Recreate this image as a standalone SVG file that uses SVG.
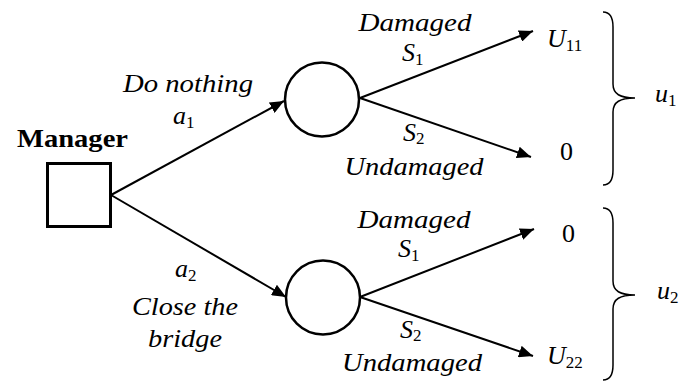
<svg xmlns="http://www.w3.org/2000/svg" width="683" height="383" viewBox="0 0 683 383">
<style>
.e{stroke:#000;stroke-width:2;fill:none}
.br{stroke:#000;stroke-width:1.5;fill:none}
.node{stroke:#000;fill:#fff}
</style>
<defs>
<marker id="ah" markerUnits="userSpaceOnUse" markerWidth="14" markerHeight="12" refX="14" refY="6" orient="auto">
<path d="M0,0 L14,6 L0,12 z" fill="#000"/>
</marker>
</defs>
<g id="connectors" marker-end="url(#ah)">
<line class="e" x1="111" y1="195" x2="284" y2="101"/>
<line class="e" x1="111" y1="195" x2="286" y2="297"/>
<line class="e" x1="360" y1="98" x2="533" y2="31"/>
<line class="e" x1="360" y1="98" x2="531" y2="157"/>
<line class="e" x1="360" y1="297" x2="534" y2="229"/>
<line class="e" x1="360" y1="297" x2="533" y2="356"/>
</g>
<g id="manager">
<rect class="node" x="47.5" y="163.5" width="63" height="63" stroke-width="3"/>
<text font-family="Times New Roman" font-weight="bold" font-size="26" x="17" y="147" textLength="111" lengthAdjust="spacingAndGlyphs">Manager</text>
</g>
<g id="chance1">
<circle class="node" cx="322" cy="99.5" r="37" stroke-width="2.5"/>
</g>
<g id="chance2">
<circle class="node" cx="323" cy="297.5" r="37" stroke-width="2.5"/>
</g>
<g id="labels-a1" font-family="Times New Roman" font-style="italic" font-size="26">
<text x="188" y="92" text-anchor="middle" textLength="130" lengthAdjust="spacingAndGlyphs">Do nothing</text>
<text x="173" y="124">a<tspan font-style="normal" font-size="17" dy="4">1</tspan></text>
</g>
<g id="labels-a2" font-family="Times New Roman" font-style="italic" font-size="26">
<text x="175" y="277">a<tspan font-style="normal" font-size="17" dy="4">2</tspan></text>
<text x="185" y="315" text-anchor="middle" textLength="106" lengthAdjust="spacingAndGlyphs">Close the</text>
<text x="185" y="347" text-anchor="middle" textLength="74" lengthAdjust="spacingAndGlyphs">bridge</text>
</g>
<g id="outcome-top" font-family="Times New Roman" font-style="italic" font-size="26">
<text x="415" y="31" text-anchor="middle" textLength="113" lengthAdjust="spacingAndGlyphs">Damaged</text>
<text x="402" y="61">S<tspan font-style="normal" font-size="17" dy="4">1</tspan></text>
<text x="403" y="141">S<tspan font-style="normal" font-size="17" dy="3">2</tspan></text>
<text x="414" y="175" text-anchor="middle" textLength="139" lengthAdjust="spacingAndGlyphs">Undamaged</text>
<text x="547" y="47">U<tspan font-style="normal" font-size="17" dy="4">11</tspan></text>
<text font-style="normal" x="560" y="160">0</text>
</g>
<g id="outcome-bottom" font-family="Times New Roman" font-style="italic" font-size="26">
<text x="414" y="228" text-anchor="middle" textLength="113" lengthAdjust="spacingAndGlyphs">Damaged</text>
<text x="398" y="257">S<tspan font-style="normal" font-size="17" dy="4">1</tspan></text>
<text x="400" y="338">S<tspan font-style="normal" font-size="17" dy="3">2</tspan></text>
<text x="412" y="371" text-anchor="middle" textLength="140" lengthAdjust="spacingAndGlyphs">Undamaged</text>
<text font-style="normal" x="562" y="242">0</text>
<text x="547" y="364">U<tspan font-style="normal" font-size="17" dy="4">22</tspan></text>
</g>
<g id="brace1">
<path class="br" d="M603,12 C610,12 613,17 613,27 L613,84 C613,94 620,98 635,98 C620,98 613,102 613,112 L613,170 C613,180 610,185 603,185"/>
<text font-family="Times New Roman" font-style="italic" font-size="26" x="655" y="102">u<tspan font-style="normal" font-size="17" dy="4">1</tspan></text>
</g>
<g id="brace2">
<path class="br" d="M603,208 C610,208 613,213 613,223 L613,281 C613,291 620,295 635,295 C620,295 613,299 613,309 L613,365 C613,375 610,380 603,380"/>
<text font-family="Times New Roman" font-style="italic" font-size="26" x="657" y="299">u<tspan font-style="normal" font-size="17" dy="4">2</tspan></text>
</g>
</svg>
